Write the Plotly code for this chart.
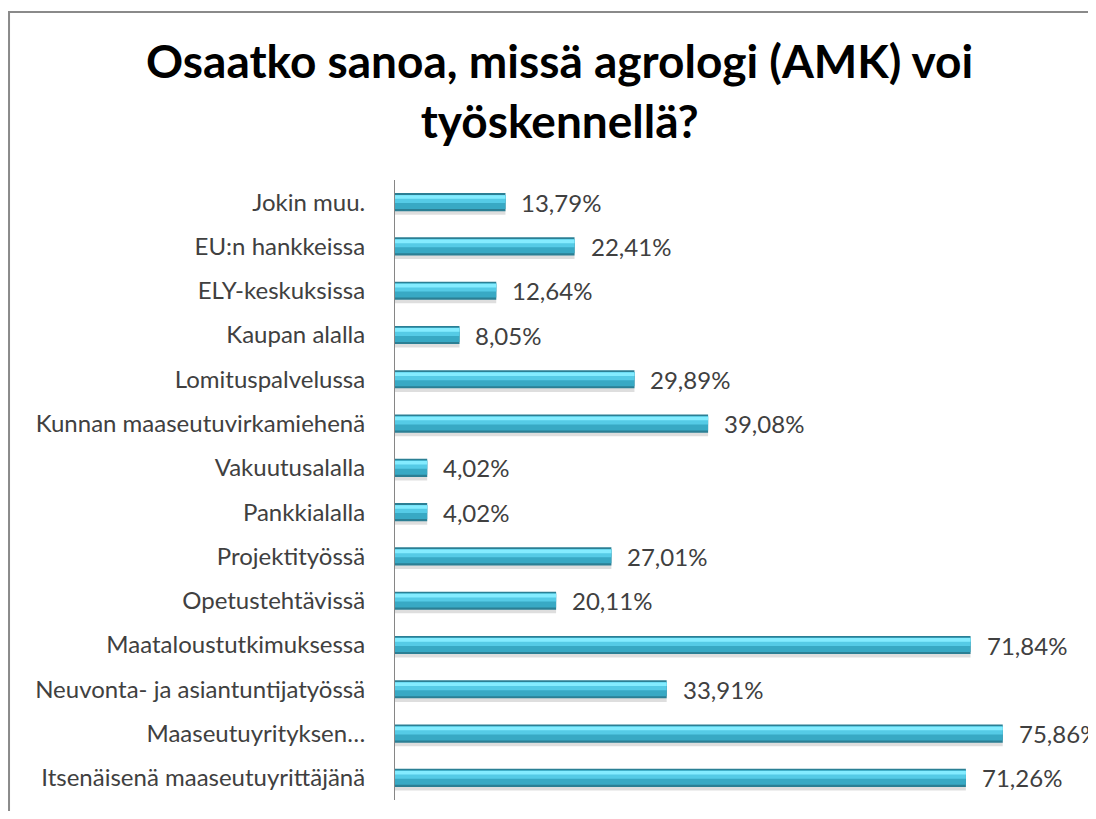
import plotly.graph_objects as go

# data, in the order shown top to bottom
categories = [
    "Jokin muu.",
    "EU:n hankkeissa",
    "ELY-keskuksissa",
    "Kaupan alalla",
    "Lomituspalvelussa",
    "Kunnan maaseutuvirkamiehenä",
    "Vakuutusalalla",
    "Pankkialalla",
    "Projektityössä",
    "Opetustehtävissä",
    "Maataloustutkimuksessa",
    "Neuvonta- ja asiantuntijatyössä",
    "Maaseutuyrityksen…",
    "Itsenäisenä maaseutuyrittäjänä",
]
shares = [13.79, 22.41, 12.64, 8.05, 29.89, 39.08, 4.02, 4.02,
          27.01, 20.11, 71.84, 33.91, 75.86, 71.26]

title_text = "Osaatko sanoa, missä agrologi (AMK) voi<br>työskennellä?"

BW = 0.41   # bar thickness in category units
font_fam = "Lato, 'Open Sans', sans-serif"

fig = go.Figure()

# soft shadow under each bar
fig.add_trace(go.Bar(y=categories, x=shares, orientation="h",
                     width=BW, offset=-BW / 2 + 0.08,
                     marker=dict(color="rgba(0,0,0,0.13)", line=dict(width=0)),
                     hoverinfo="skip"))
# bar body, layered to fake the bevel gradient (start from bottom, fraction of height)
layers = [
    (0.0, 1.0, "#2b7f94"),
    (0.12, 0.78, "#38a9c4"),
    (0.45, 0.45, "#55cbe6"),
    (0.68, 0.2, "#84ecff"),
]
for start, frac, col in layers:
    fig.add_trace(go.Bar(y=categories, x=shares, orientation="h",
                         width=BW * frac,
                         offset=-BW / 2 + BW * (1 - start - frac),
                         marker=dict(color=col, line=dict(width=0)),
                         hoverinfo="skip"))

# value labels
for c, v in zip(categories, shares):
    fig.add_annotation(x=v, y=c, text=f"{v:.2f}%".replace(".", ","),
                       showarrow=False, xanchor="left", xshift=14,
                       font=dict(family=font_fam, size=24, color="#404040"))

fig.update_layout(
    width=1088, height=803,
    barmode="overlay",
    showlegend=False,
    plot_bgcolor="white", paper_bgcolor="white",
    margin=dict(l=387, r=0, t=172, b=11),
    title=dict(text=title_text, x=0.507, xanchor="center",
               y=1 - 70 / 803, yanchor="top", yref="container",
               font=dict(family=font_fam, size=46, color="black", weight="bold")),
    xaxis=dict(range=[0, 87.5], showgrid=False, showticklabels=False,
               zeroline=False, showline=False, fixedrange=True),
    yaxis=dict(autorange="reversed", showgrid=False, showline=True,
               linecolor="#868686", linewidth=1, ticks="",
               ticklabelstandoff=24,
               tickfont=dict(family=font_fam, size=24, color="#404040")),
    shapes=[dict(type="rect", xref="paper", yref="paper",
                 x0=-0.5506, x1=1.2, y0=-0.2, y1=1.271,
                 line=dict(color="#8a8a8a", width=2), layer="below")],
)

fig.write_html("out.html")
